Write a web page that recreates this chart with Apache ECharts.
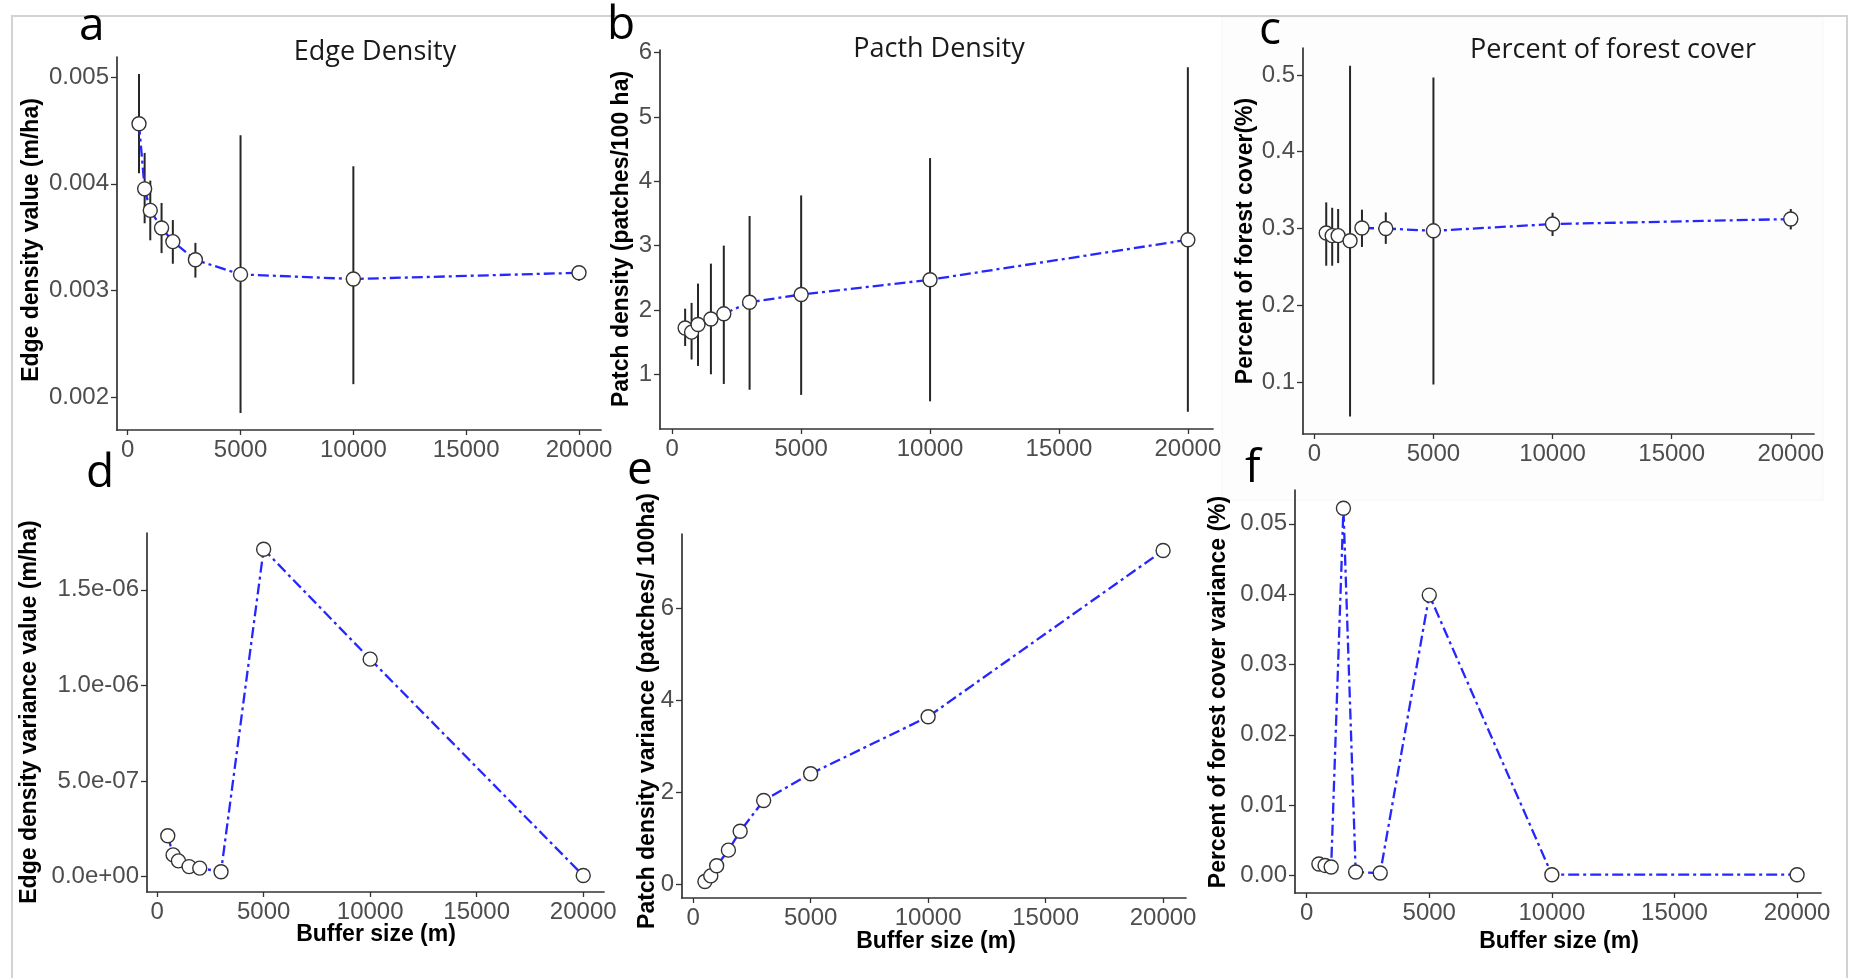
<!DOCTYPE html>
<html>
<head>
<meta charset="utf-8">
<script src="https://cdn.jsdelivr.net/npm/echarts@6/dist/echarts.min.js"></script>
<style>
  html, body { margin: 0; padding: 0; background: #ffffff; }
  #chart { width: 1854px; height: 978px; }
</style>
</head>
<body>
<div id="chart"></div>
<script>
// ---------------- data ----------------
const bufferSize = [500, 750, 1000, 1500, 2000, 3000, 5000, 10000, 20000];

const edgeDensity     = [0.004564, 0.003953, 0.003751, 0.003586, 0.003458, 0.003287, 0.00315, 0.003107, 0.003165];
const edgeDensityLow  = [0.00410, 0.00363, 0.00347, 0.00335, 0.00325, 0.00312, 0.00185, 0.00212, 0.00309];
const edgeDensityHigh = [0.00503, 0.00429, 0.00403, 0.00382, 0.00366, 0.003446, 0.004455, 0.004165, 0.003224];

const patchDensity     = [1.72, 1.655, 1.775, 1.86, 1.94, 2.12, 2.24, 2.47, 3.09];
const patchDensityLow  = [1.44, 1.23, 1.13, 1.00, 0.85, 0.76, 0.68, 0.58, 0.42];
const patchDensityHigh = [2.02, 2.11, 2.41, 2.72, 3.00, 3.46, 3.78, 4.36, 5.77];

const forestCover     = [0.2942, 0.2907, 0.2907, 0.284, 0.3007, 0.300, 0.297, 0.3058, 0.3123];
const forestCoverLow  = [0.2516, 0.2516, 0.255, 0.0553, 0.276, 0.280, 0.0969, 0.2903, 0.2988];
const forestCoverHigh = [0.334, 0.327, 0.3254, 0.512, 0.3245, 0.321, 0.4965, 0.3205, 0.3254];

const edgeDensityVar  = [2.13e-7, 1.13e-7, 8.2e-8, 5.2e-8, 4.4e-8, 2.5e-8, 1.712e-6, 1.137e-6, 5e-9];
const patchDensityVar = [0.06, 0.18, 0.40, 0.74, 1.15, 1.82, 2.40, 3.64, 7.25];
const forestCoverVar  = [0.00162, 0.00142, 0.00119, 0.0522, 0.00048, 0.00034, 0.03986, 0.0001, 0.0001];

// tick values and labels
const xTicks = [0, 5000, 10000, 15000, 20000];
const xTickLabels = ['0', '5000', '10000', '15000', '20000'];
const aTicks = [0.002, 0.003, 0.004, 0.005];
const aTickLabels = ['0.002', '0.003', '0.004', '0.005'];
const bTicks = [1, 2, 3, 4, 5, 6];
const bTickLabels = ['1', '2', '3', '4', '5', '6'];
const cTicks = [0.1, 0.2, 0.3, 0.4, 0.5];
const cTickLabels = ['0.1', '0.2', '0.3', '0.4', '0.5'];
const dTicks = [0, 5e-7, 1e-6, 1.5e-6];
const dTickLabels = ['0.0e+00', '5.0e-07', '1.0e-06', '1.5e-06'];
const eTicks = [0, 2, 4, 6];
const eTickLabels = ['0', '2', '4', '6'];
const fTicks = [0, 0.01, 0.02, 0.03, 0.04, 0.05];
const fTickLabels = ['0.00', '0.01', '0.02', '0.03', '0.04', '0.05'];

// ---------------- layout / style ----------------
const TICK_FONT = 'Liberation Sans, Arial, sans-serif';
const TICK_COLOR = '#4d4d4d';
const AXIS_COLOR = '#333333';
const LINE_COLOR = '#2626ff';
const X_RANGE = [-475, 20975];

const panels = [
  { grid: { left: 117, top: 57, width: 484, height: 373 }, yRange: [0.00169, 0.00519], ticks: aTicks, labels: aTickLabels, y: edgeDensity, lo: edgeDensityLow, hi: edgeDensityHigh },
  { grid: { left: 660, top: 50, width: 553, height: 379 }, yRange: [0.15, 6.04], ticks: bTicks, labels: bTickLabels, y: patchDensity, lo: patchDensityLow, hi: patchDensityHigh },
  { grid: { left: 1303, top: 48, width: 511, height: 386 }, yRange: [0.0325, 0.535], ticks: cTicks, labels: cTickLabels, y: forestCover, lo: forestCoverLow, hi: forestCoverHigh },
  { grid: { left: 147, top: 533, width: 457, height: 359 }, yRange: [-8.1e-8, 1.797e-6], ticks: dTicks, labels: dTickLabels, y: edgeDensityVar },
  { grid: { left: 682, top: 534, width: 504, height: 364 }, yRange: [-0.30, 7.61], ticks: eTicks, labels: eTickLabels, y: patchDensityVar },
  { grid: { left: 1295, top: 490, width: 526, height: 403 }, yRange: [-0.0025, 0.0548], ticks: fTicks, labels: fTickLabels, y: forestCoverVar }
];

function labelFor(ticks, labels) {
  return function (v) {
    for (let i = 0; i < ticks.length; i++) {
      if (Math.abs(ticks[i] - v) <= Math.abs(ticks[1] - ticks[0]) * 1e-6) return labels[i];
    }
    return '';
  };
}

const grids = [], xAxes = [], yAxes = [], series = [];
panels.forEach((p, i) => {
  grids.push(Object.assign({ containLabel: false, outerBoundsMode: 'none' }, p.grid));
  xAxes.push({
    type: 'value', gridIndex: i, min: X_RANGE[0], max: X_RANGE[1],
    splitLine: { show: false },
    axisLine: { show: true, onZero: false, lineStyle: { color: AXIS_COLOR, width: 1.7 } },
    axisTick: { show: true, length: 5, customValues: xTicks, lineStyle: { color: AXIS_COLOR, width: 1.3 } },
    axisLabel: { show: true, customValues: xTicks, formatter: labelFor(xTicks, xTickLabels),
      fontFamily: TICK_FONT, fontSize: 24, color: TICK_COLOR, margin: 8 }
  });
  yAxes.push({
    type: 'value', gridIndex: i, min: p.yRange[0], max: p.yRange[1],
    splitLine: { show: false },
    axisLine: { show: true, onZero: false, lineStyle: { color: AXIS_COLOR, width: 1.7 } },
    axisTick: { show: true, length: 6, customValues: p.ticks, lineStyle: { color: AXIS_COLOR, width: 1.3 } },
    axisLabel: { show: true, customValues: p.ticks, formatter: labelFor(p.ticks, p.labels),
      fontFamily: TICK_FONT, fontSize: 24, color: TICK_COLOR, margin: 8 }
  });
  if (p.lo) {
    series.push({
      type: 'custom', xAxisIndex: i, yAxisIndex: i, z: 2, silent: true,
      data: bufferSize.map((x, k) => [x, p.lo[k], p.hi[k]]),
      encode: { x: 0, y: [1, 2] },
      renderItem: function (params, api) {
        const a = api.coord([api.value(0), api.value(1)]);
        const b = api.coord([api.value(0), api.value(2)]);
        return { type: 'line', shape: { x1: a[0], y1: a[1], x2: b[0], y2: b[1] },
          style: { stroke: '#262626', lineWidth: 2 } };
      }
    });
  }
  series.push({
    type: 'line', xAxisIndex: i, yAxisIndex: i, z: 3, silent: true,
    data: bufferSize.map((x, k) => [x, p.y[k]]),
    symbol: 'circle', symbolSize: 14, showAllSymbol: true,
    itemStyle: { color: '#ffffff', borderColor: '#333333', borderWidth: 1.4 },
    lineStyle: { color: LINE_COLOR, width: 2.3, type: [11, 4, 3, 4] },
    emphasis: { disabled: true }
  });
});

const letterFont = '46px "Open Sans", sans-serif';
const titleFont = '27px "Open Sans", sans-serif';
const axisTitleFont = 'bold 23px "Liberation Sans", Arial, sans-serif';

function txt(text, x, y, font, opts) {
  opts = opts || {};
  return {
    type: 'text', x: x, y: y, rotation: opts.rotation || 0, z: 10, silent: true,
    style: { text: text, font: font, fill: opts.fill || '#000',
      align: opts.align || 'center', verticalAlign: opts.verticalAlign || 'middle' }
  };
}
const R = Math.PI / 2;
const graphics = [
  { type: 'rect', z: -10, silent: true, shape: { x: 1222, y: 17, width: 601, height: 483 },
    style: { fill: '#fdfdfd', stroke: '#f6f6f6', lineWidth: 1 } },
  { type: 'rect', z: -5, silent: true, shape: { x: 12, y: 16, width: 1835, height: 1000 },
    style: { fill: 'none', stroke: '#d2d2d2', lineWidth: 2 } },
  // panel letters
  txt('a', 79, 27, letterFont, { align: 'left' }),
  txt('b', 607, 26, letterFont, { align: 'left' }),
  txt('c', 1259, 31, letterFont, { align: 'left' }),
  txt('d', 86, 474, letterFont, { align: 'left' }),
  txt('e', 627, 471, letterFont, { align: 'left' }),
  txt('f', 1245, 469, letterFont, { align: 'left' }),
  // panel titles
  txt('Edge Density', 375, 52, titleFont, { fill: '#1a1a1a' }),
  txt('Pacth Density', 939, 49, titleFont, { fill: '#1a1a1a' }),
  txt('Percent of forest cover', 1613, 50, titleFont, { fill: '#1a1a1a' }),
  // y-axis titles
  txt('Edge density value (m/ha)', 32, 240, axisTitleFont, { rotation: R }),
  txt('Patch density (patches/100 ha)', 622, 239, axisTitleFont, { rotation: R }),
  txt('Percent of forest cover(%)', 1246, 241, axisTitleFont, { rotation: R }),
  txt('Edge density variance value (m/ha)', 30, 712, axisTitleFont, { rotation: R }),
  txt('Patch density variance (patches/ 100ha)', 648, 711, axisTitleFont, { rotation: R }),
  txt('Percent of forest cover variance (%)', 1219, 692, axisTitleFont, { rotation: R }),
  // x-axis titles
  txt('Buffer size (m)', 376, 935, axisTitleFont),
  txt('Buffer size (m)', 936, 942, axisTitleFont),
  txt('Buffer size (m)', 1559, 942, axisTitleFont)
];

const chart = echarts.init(document.getElementById('chart'), null, { renderer: 'canvas' });
chart.setOption({
  animation: false,
  backgroundColor: '#ffffff',
  grid: grids,
  xAxis: xAxes,
  yAxis: yAxes,
  series: series,
  graphic: graphics
});
</script>
</body>
</html>
